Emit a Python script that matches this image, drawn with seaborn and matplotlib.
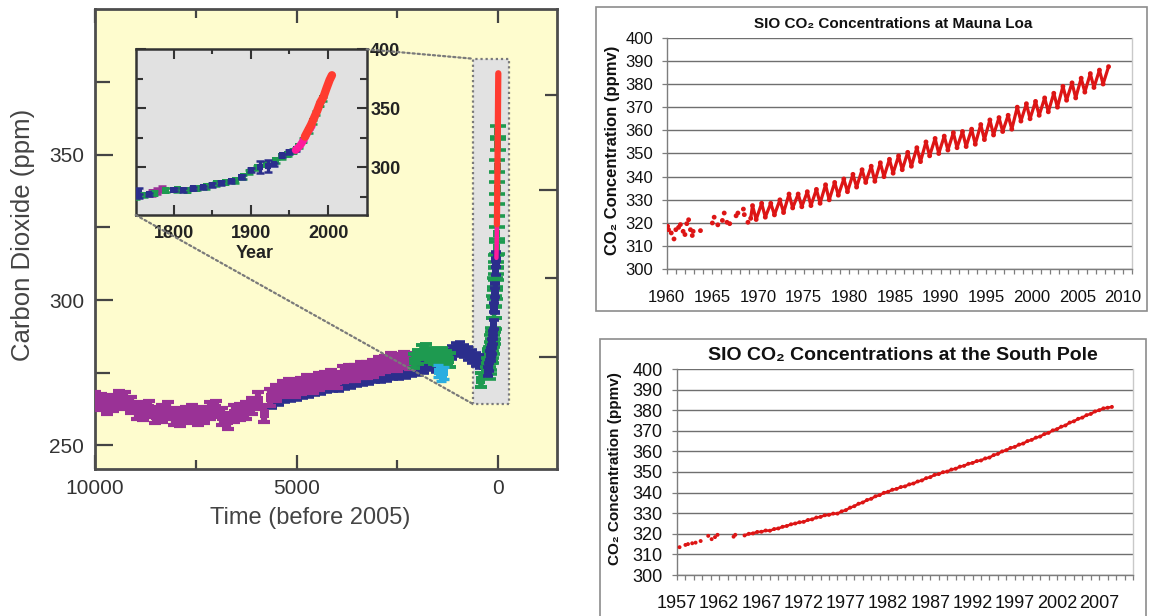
import numpy as np
import pandas as pd
import matplotlib
matplotlib.use("Agg")
import matplotlib.pyplot as plt
import seaborn as sns
from matplotlib.patches import Rectangle, ConnectionPatch

# ======================= DATA =======================
# --- Ice-core records, long term (years before 2005, ppm) ---
purple_bp = [10000, 9850, 9700, 9550, 9400, 9250, 9100, 8950, 8800, 8650, 8500, 8350,
             8200, 8050, 7900, 7750, 7600, 7450, 7300, 7150, 7000, 6850, 6700, 6550,
             6400, 6250, 6100, 5950, 5800, 5650, 5500, 5350, 5200, 5050, 4900, 4750,
             4600, 4450, 4300, 4150, 4000, 3850, 3700, 3550, 3400, 3250, 3100, 2950,
             2800, 2650, 2500, 2350, 2200]
purple_ppm = [265.5, 265.0, 263.5, 264.5, 266.0, 265.5, 264.0, 262.0, 261.5, 262.5, 260.5, 261.0,
              262.0, 260.0, 259.5, 260.5, 261.0, 260.0, 260.5, 262.0, 262.5, 260.0, 258.5, 261.0,
              261.5, 262.0, 263.5, 265.5, 261.0, 266.5, 268.0, 269.5, 270.0, 269.5, 270.5, 271.5,
              271.0, 272.0, 272.5, 273.0, 272.5, 274.5, 275.0, 275.0, 276.0, 276.0, 276.5, 277.5,
              278.0, 279.0, 278.5, 279.5, 279.0]

blue_bp = [5600, 5450, 5300, 5150, 5000, 4850, 4700, 4550, 4400, 4250, 4100, 3950, 3800,
           3650, 3500, 3350, 3200, 3050, 2900, 2750, 2600, 2450, 2300, 2150, 2000, 1850,
           1700, 1550, 1400, 1250, 1150, 1050, 950, 850, 750, 650, 550, 450, 350, 250]
blue_ppm = [265.0, 266.0, 267.0, 267.5, 268.0, 268.5, 269.0, 269.5, 270.0, 270.5, 271.0, 271.0, 271.5,
            272.0, 272.5, 273.0, 273.5, 274.0, 274.0, 274.5, 275.0, 275.0, 275.5, 276.0, 276.5, 277.0,
            278.0, 277.5, 278.0, 279.5, 282.0, 283.0, 283.5, 282.5, 281.5, 280.5, 279.5, 279.0, 279.0, 280.0]

green_bp = [2100, 2000, 1900, 1800, 1700, 1600, 1500, 1400, 1300, 1200, 440]
green_ppm = [279.0, 280.5, 282.0, 282.5, 281.0, 280.5, 280.0, 281.0, 280.0, 279.5, 272.5]

cyan_bp = [1500, 1420, 1340]
cyan_ppm = [275.5, 274.0, 275.0]

# --- Recent records (calendar year, ppm) ---
purple_year = [1772, 1779, 1785]
purple_year_ppm = [278.5, 279.5, 281.5]

blue_year = [1755, 1768, 1800, 1812, 1825, 1838, 1850, 1862, 1875, 1888, 1900, 1912, 1922,
             1930, 1940, 1950, 1958]
blue_year_ppm = [275.5, 277.0, 281.0, 280.5, 282.0, 283.0, 285.0, 286.5, 288.0, 291.5, 297.5, 300.5, 301.0,
                 302.5, 310.0, 313.0, 315.0]
blue_year_err = [1.5, 1.5, 1.5, 1.5, 1.5, 1.5, 1.5, 1.5, 1.5, 1.5, 1.5, 5.0, 5.0,
                 1.5, 1.5, 1.5, 1.5]

green_year = [1752, 1762, 1775, 1790, 1805, 1818, 1830, 1842, 1855, 1867, 1880, 1890, 1898,
              1908, 1920, 1932, 1940, 1948, 1955, 1962, 1968, 1975, 1980, 1985, 1990, 1993]
green_year_ppm = [275.0, 276.5, 278.0, 280.5, 281.0, 280.5, 282.0, 283.5, 286.0, 287.0, 288.5, 292.0, 296.0,
                  299.5, 302.5, 305.5, 309.0, 311.0, 313.5, 318.0, 323.0, 331.0, 338.5, 346.0, 353.5, 358.0]

magenta_year = [1958, 1961, 1964, 1967, 1970, 1973, 1976, 1979]
magenta_ppm = [314.5, 316.5, 318.5, 321.5, 325.0, 329.0, 332.0, 335.0]

red_year = [1970, 1974, 1978, 1982, 1986, 1990, 1994, 1998, 2002, 2005]
red_ppm = [326.0, 331.0, 336.0, 342.0, 348.0, 355.0, 359.5, 367.0, 374.0, 378.0]

# right-hand (forcing) axis tick positions of the long-term panel, in ppm
main_right_major = [280.3, 337.8]
main_right_minor = [307.6, 370.6]

# --- Mauna Loa (SIO) ---
ml_dot_year = [1960.1, 1960.2, 1960.5, 1960.8, 1961.0, 1961.3, 1961.5, 1961.8, 1962.0, 1962.2,
               1962.4, 1962.6, 1962.8, 1962.9, 1963.7, 1965.0, 1965.2, 1965.6, 1966.1, 1966.3,
               1966.6, 1966.9, 1967.6, 1967.8, 1968.4, 1968.5, 1968.9]
ml_dot_ppm = [318.6, 317.1, 315.7, 313.1, 317.1, 318.1, 319.3, 316.4, 315.0, 319.7,
              321.4, 317.1, 314.6, 316.4, 316.7, 320.0, 322.5, 319.2, 321.1, 324.3,
              320.3, 319.7, 323.1, 324.3, 326.0, 323.6, 320.3]
ml_year = [1969.2, 1969.4, 1969.8, 1970.4, 1970.8, 1971.4, 1971.8, 1972.4, 1972.8, 1973.4, 1973.8,
           1974.4, 1974.8, 1975.4, 1975.8, 1976.4, 1976.8, 1977.4, 1977.8, 1978.4, 1978.8,
           1979.4, 1979.8, 1980.4, 1980.8, 1981.4, 1981.8, 1982.4, 1982.8, 1983.4, 1983.8,
           1984.4, 1984.8, 1985.4, 1985.8, 1986.4, 1986.8, 1987.4, 1987.8, 1988.4, 1988.8,
           1989.4, 1989.8, 1990.4, 1990.8, 1991.4, 1991.8, 1992.4, 1992.8, 1993.4, 1993.8,
           1994.4, 1994.8, 1995.4, 1995.8, 1996.4, 1996.8, 1997.4, 1997.8, 1998.4, 1998.8,
           1999.4, 1999.8, 2000.4, 2000.8, 2001.4, 2001.8, 2002.4, 2002.8, 2003.4, 2003.8,
           2004.4, 2004.8, 2005.4, 2005.8, 2006.4, 2006.8, 2007.4, 2007.8, 2008.4]
ml_ppm = [322.0, 327.5, 321.5, 328.5, 322.5, 328.5, 323.5, 330.0, 324.5, 332.5, 326.5,
          332.5, 327.0, 333.5, 327.5, 334.5, 328.5, 336.5, 330.0, 337.5, 332.0,
          339.0, 333.5, 341.0, 335.5, 343.0, 337.5, 344.5, 338.0, 346.0, 340.0,
          347.5, 341.5, 349.0, 343.0, 350.5, 344.5, 352.5, 346.5, 355.0, 349.0,
          356.5, 350.0, 357.5, 351.5, 359.0, 352.5, 359.5, 353.0, 360.5, 354.0,
          362.5, 356.0, 364.5, 358.0, 365.5, 359.5, 366.5, 360.5, 370.0, 364.0,
          371.5, 365.0, 372.5, 366.5, 374.0, 368.0, 376.0, 370.0, 379.0, 373.0,
          380.5, 374.0, 382.5, 376.5, 384.5, 378.5, 386.0, 380.0, 387.5]
ml_tick_years = [1960, 1965, 1970, 1975, 1980, 1985, 1990, 1995, 2000, 2005, 2010]

# --- South Pole (SIO) ---
sp_dot_year = [1957.3, 1958.0, 1958.3, 1958.8, 1959.2, 1959.8, 1960.7, 1961.1, 1961.5, 1961.8, 1963.7, 1963.9]
sp_dot_ppm = [313.5, 314.6, 315.0, 315.4, 315.7, 316.5, 319.0, 317.4, 318.4, 319.5, 318.6, 319.5]
sp_year = [1965.0, 1965.5, 1966.0, 1966.5, 1967.0, 1967.5, 1968.0, 1968.5, 1969.0, 1969.5,
           1970.0, 1970.5, 1971.0, 1971.5, 1972.0, 1972.5, 1973.0, 1973.5, 1974.0, 1974.5,
           1975.0, 1975.5, 1976.0, 1976.5, 1977.0, 1977.5, 1978.0, 1978.5, 1979.0, 1979.5,
           1980.0, 1980.5, 1981.0, 1981.5, 1982.0, 1982.5, 1983.0, 1983.5, 1984.0, 1984.5,
           1985.0, 1985.5, 1986.0, 1986.5, 1987.0, 1987.5, 1988.0, 1988.5, 1989.0, 1989.5,
           1990.0, 1990.5, 1991.0, 1991.5, 1992.0, 1992.5, 1993.0, 1993.5, 1994.0, 1994.5,
           1995.0, 1995.5, 1996.0, 1996.5, 1997.0, 1997.5, 1998.0, 1998.5, 1999.0, 1999.5,
           2000.0, 2000.5, 2001.0, 2001.5, 2002.0, 2002.5, 2003.0, 2003.5, 2004.0, 2004.5,
           2005.0, 2005.5, 2006.0, 2006.5, 2007.0, 2007.5, 2008.0, 2008.5]
sp_ppm = [319.2, 320.0, 320.2, 320.9, 321.0, 321.6, 321.5, 322.3, 322.6, 323.4,
          323.8, 324.6, 325.0, 325.6, 325.8, 326.7, 327.0, 327.9, 328.2, 329.0,
          329.2, 329.8, 329.8, 330.9, 331.5, 332.7, 333.4, 334.6, 335.2, 336.4,
          337.0, 338.2, 338.8, 339.9, 340.4, 341.4, 341.8, 342.7, 343.0, 344.0,
          344.4, 345.4, 345.9, 347.0, 347.5, 348.6, 349.0, 349.9, 350.2, 351.2,
          351.6, 352.6, 353.0, 354.0, 354.4, 355.3, 355.6, 356.6, 357.0, 358.2,
          358.8, 360.0, 360.6, 361.7, 362.2, 363.3, 363.8, 365.0, 365.6, 366.7,
          367.2, 368.4, 369.0, 370.2, 370.8, 372.0, 372.6, 374.0, 374.6, 375.8,
          376.4, 377.6, 378.2, 379.4, 380.0, 380.9, 381.2, 381.6]
sp_tick_years = [1957, 1962, 1967, 1972, 1977, 1982, 1987, 1992, 1997, 2002, 2007]

# ======================= STYLE =======================
sns.set_theme(style="white")
plt.rcParams['font.family'] = ['Liberation Sans', 'DejaVu Sans']
plt.rcParams['axes.unicode_minus'] = False

W, H = 1150, 616
fig = plt.figure(figsize=(W / 100, H / 100), dpi=100)
fig.patch.set_facecolor('white')


def fbox(l, t, r, b):
    return [l / W, 1 - b / H, (r - l) / W, (b - t) / H]


C_PURPLE = '#9A3296'
C_BLUE = '#2B2E8C'
C_GREEN = '#1E9A50'
C_CYAN = '#2AAEE0'
C_MAGENTA = '#FF1A9C'
C_RED = '#FF3B30'
YELLOW = '#FEFCCE'
C_ML = '#DD1515'


def ice(ax, x, y, err, color, elw, cap, capt, ms, z):
    ax.errorbar(x, y, yerr=err, fmt='none', ecolor=color, elinewidth=elw,
                capsize=cap, capthick=capt, zorder=z)
    sns.scatterplot(x=x, y=y, ax=ax, color=color, marker='s', s=ms,
                    edgecolor='none', linewidth=0, zorder=z, legend=False)


bp = lambda years: [2005 - yv for yv in years]
yr = lambda bps: [2005 - b for b in bps]

# ======================= LONG-TERM PANEL =======================
ax = fig.add_axes(fbox(95, 9.3, 556.7, 469))
ax.set_facecolor(YELLOW)
ax.set_xlim(10000, -1448)
ax.set_ylim(241.9, 400)

box_bp = (620, -273)
box_ppm = (264.2, 383.0)
ax.add_patch(Rectangle((box_bp[1], box_ppm[0]), box_bp[0] - box_bp[1], box_ppm[1] - box_ppm[0],
                       facecolor='#E2E2E2', edgecolor='#7a7a7a', ls=(0, (1, 1.3)), lw=1.6, zorder=1))

ice(ax, blue_bp, blue_ppm, 2.2, C_BLUE, 4.0, 3.8, 2.6, 36, 3)
ice(ax, purple_bp, purple_ppm, 2.8, C_PURPLE, 4.5, 4.3, 3.0, 45, 4)
ice(ax, green_bp, green_ppm, 2.4, C_GREEN, 4.0, 4.2, 2.8, 36, 5)
ice(ax, cyan_bp, cyan_ppm, 2.0, C_CYAN, 3.6, 3.6, 2.4, 28, 5)
ice(ax, bp(purple_year), purple_year_ppm, 2.2, C_PURPLE, 3.2, 3.4, 2.4, 24, 5)
ice(ax, bp(green_year), green_year_ppm, 2.0, C_GREEN, 3.2, 5.5, 2.6, 24, 6)
ice(ax, bp(blue_year), blue_year_ppm, blue_year_err, C_BLUE, 3.6, 3.8, 2.6, 30, 7)
sns.lineplot(x=bp(magenta_year), y=magenta_ppm, ax=ax, color=C_MAGENTA, lw=3.2,
             estimator=None, sort=False, zorder=8)
sns.lineplot(x=bp(red_year), y=red_ppm, ax=ax, color=C_RED, lw=4.5,
             estimator=None, sort=False, zorder=9)

ax.set_xticks([10000, 5000, 0])
ax.set_xticklabels(['10000', '5000', '0'])
ax.set_xticks([7500, 2500], minor=True)
ax.set_yticks([250, 300, 350])
ax.set_yticks([275, 325, 375], minor=True)
ax.tick_params(axis='x', which='major', direction='in', length=10, width=1.6, top=True, bottom=True,
               labelsize=15, labelcolor='#333333', pad=7, color='#444444')
ax.tick_params(axis='x', which='minor', direction='in', length=6.5, width=1.6, top=True, bottom=True,
               color='#444444')
ax.tick_params(axis='y', which='major', direction='in', length=13, width=1.6, left=True, right=False,
               labelsize=15, labelcolor='#333333', pad=8, color='#444444')
ax.tick_params(axis='y', which='minor', direction='in', length=11, width=1.6, left=True, right=False,
               color='#444444')
for s in ax.spines.values():
    s.set_color('#4d4d4d')
    s.set_linewidth(2)
ax.set_xlabel('Time (before 2005)', fontsize=17, color='#444444', va='center')
ax.xaxis.set_label_coords(0.466, -0.1066)
ax.set_ylabel('Carbon Dioxide (ppm)', fontsize=18.5, color='#444444', va='center')
ax.yaxis.set_label_coords(-0.156, 0.509)
ax.grid(False)

axr = ax.twinx()
axr.set_ylim(ax.get_ylim())
axr.set_yticks(main_right_major)
axr.set_yticks(main_right_minor, minor=True)
axr.tick_params(axis='y', which='major', direction='in', length=13, width=1.6, labelright=False,
                color='#444444')
axr.tick_params(axis='y', which='minor', direction='in', length=9, width=1.6, color='#444444')
for s in axr.spines.values():
    s.set_visible(False)
axr.grid(False)

# ======================= INSET =======================
axin = fig.add_axes(fbox(135.7, 49.3, 366.7, 215))
axin.set_facecolor('#E1E1E1')
ice(axin, yr(blue_bp), blue_ppm, 2.0, C_BLUE, 2.4, 2.8, 1.8, 20, 3)
ice(axin, purple_year, purple_year_ppm, 2.5, C_PURPLE, 2.4, 2.8, 1.8, 20, 4)
ice(axin, green_year, green_year_ppm, 1.6, C_GREEN, 2.4, 2.8, 1.8, 24, 5)
ice(axin, blue_year, blue_year_ppm, blue_year_err, C_BLUE, 2.4, 2.8, 1.8, 20, 6)
sns.lineplot(x=magenta_year, y=magenta_ppm, ax=axin, color=C_MAGENTA, lw=5.5,
             estimator=None, sort=False, zorder=8)
sns.lineplot(x=red_year, y=red_ppm, ax=axin, color=C_RED, lw=6,
             estimator=None, sort=False, zorder=9)
axin.set_xlim(1751, 2050)
axin.set_ylim(259.5, 400)
axin.set_xticks([1800, 1900, 2000])
axin.set_xticks([1850, 1950], minor=True)
axin.set_yticks([300, 350, 400])
axin.set_yticks([275, 325, 375], minor=True)
axin.tick_params(axis='x', which='major', direction='in', length=7, width=1.5, top=True, bottom=True,
                 labelsize=13, pad=7, color='#333333')
axin.tick_params(axis='x', which='minor', direction='in', length=3.8, width=1.5, top=True, bottom=True,
                 color='#333333')
axin.tick_params(axis='y', which='major', direction='in', length=7, width=1.5, left=True, right=True,
                 labelleft=False, labelright=True, labelsize=13, pad=2.5, color='#333333')
axin.tick_params(axis='y', which='minor', direction='in', length=5, width=1.5, left=True, right=True,
                 color='#333333')
for lab in axin.get_xticklabels() + axin.get_yticklabels():
    lab.set_fontweight('bold')
    lab.set_color('#222222')
for s in axin.spines.values():
    s.set_color('#333333')
    s.set_linewidth(1.8)
axin.set_xlabel('Year', fontsize=13, fontweight='bold', color='#222222', va='center')
axin.xaxis.set_label_coords(0.516, -0.235)
axin.set_ylabel('')
axin.grid(False)

for xyA, xyB in [((1, 1), (box_bp[0], box_ppm[1])), ((0, 0), (box_bp[0], box_ppm[0]))]:
    con = ConnectionPatch(xyA=xyA, coordsA=axin.transAxes, xyB=xyB, coordsB=ax.transData,
                          color='#7a7a7a', lw=1.6, ls=(0, (1, 1.3)))
    fig.add_artist(con)


# ======================= EXCEL-STYLE PANELS =======================
def excel_axes(a, xmin, xmax, majors, fs, xpad, ypad):
    a.set_facecolor('white')
    a.set_xlim(xmin, xmax)
    a.set_ylim(300, 400)
    a.set_yticks(list(range(300, 401, 10)))
    a.set_xticks(majors)
    a.set_xticks(list(range(xmin, xmax + 1)), minor=True)
    a.grid(False)
    a.yaxis.grid(True, color='#6f6f6f', lw=1.0)
    a.set_axisbelow(True)
    a.spines['top'].set_visible(False)
    a.spines['right'].set_color('#c9c9c9')
    a.spines['right'].set_linewidth(1.0)
    for s in ['left', 'bottom']:
        a.spines[s].set_color('#7d7d7d')
        a.spines[s].set_linewidth(1.0)
    a.tick_params(axis='x', which='both', direction='out', length=3.6, width=0.9, color='#7d7d7d',
                  bottom=True, pad=xpad, labelsize=fs, labelcolor='#111111')
    a.tick_params(axis='y', direction='out', length=3.5, width=0.9, color='#7d7d7d',
                  left=True, pad=ypad, labelsize=fs, labelcolor='#111111')


axml = fig.add_axes(fbox(666.7, 37.7, 1132.3, 269.3))
excel_axes(axml, 1960, 2011, ml_tick_years, 12, 11.5, 6.3)
sns.lineplot(x=ml_year, y=ml_ppm, ax=axml, color=C_ML, lw=2.3, estimator=None, sort=False, zorder=3)
sns.scatterplot(x=ml_year + ml_dot_year, y=ml_ppm + ml_dot_ppm, ax=axml, color=C_ML, s=12,
                edgecolor='none', linewidth=0, zorder=4, legend=False)
axml.set_xlabel('')
axml.set_ylabel('CO₂ Concentration (ppmv)', fontsize=12, fontweight='bold', color='#111111', va='center')
axml.yaxis.set_label_coords(-0.116, 0.5117)
axml.set_title('SIO CO₂ Concentrations at Mauna Loa', fontsize=11, fontweight='bold',
               color='#111111', x=0.486, y=1.06, va='center', pad=0)

axsp = fig.add_axes(fbox(677, 369, 1133, 575))
excel_axes(axsp, 1957, 2011, sp_tick_years, 13, 10.6, 7)
sns.lineplot(x=sp_year, y=sp_ppm, ax=axsp, color=C_ML, lw=1.8, estimator=None, sort=False, zorder=3)
sns.scatterplot(x=sp_year + sp_dot_year, y=sp_ppm + sp_dot_ppm, ax=axsp, color=C_ML, s=8,
                edgecolor='none', linewidth=0, zorder=4, legend=False)
axsp.set_xlabel('')
axsp.set_ylabel('CO₂ Concentration (ppmv)', fontsize=11, fontweight='bold', color='#111111', va='center')
axsp.yaxis.set_label_coords(-0.136, 0.518)
axsp.set_title('SIO CO₂ Concentrations at the South Pole', fontsize=14, fontweight='bold',
               color='#111111', x=0.4945, y=1.0655, va='center', pad=0)

# chart frames
fig.add_artist(Rectangle((596 / W, 1 - 311 / H), 551.3 / W, 303.7 / H, transform=fig.transFigure,
                         fill=False, ec='#8c8c8c', lw=1.2))
fig.add_artist(Rectangle((600 / W, 1 - 640 / H), 546 / W, 300.7 / H, transform=fig.transFigure,
                         fill=False, ec='#8c8c8c', lw=1.2, clip_on=False))

fig.savefig('out.png', dpi=100, facecolor='white')
